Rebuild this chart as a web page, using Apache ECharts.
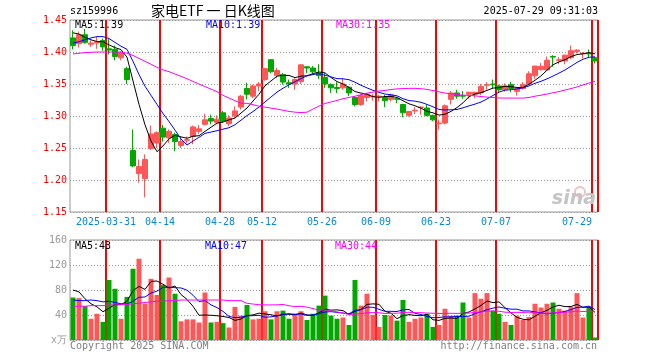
<!DOCTYPE html>
<html><head><meta charset="utf-8">
<script src="https://cdn.jsdelivr.net/npm/echarts@6/dist/echarts.min.js"></script>
<style>html,body{margin:0;padding:0;background:#fff}#c{width:660px;height:360px}</style>
</head><body><div id="c"></div>
<script>
// ---- data ----
const dates = ['2025-03-21','2025-03-24','2025-03-25','2025-03-26','2025-03-27','2025-03-28','2025-03-31',
'2025-04-01','2025-04-02','2025-04-03','2025-04-07','2025-04-08','2025-04-09','2025-04-10','2025-04-11',
'2025-04-14','2025-04-15','2025-04-16','2025-04-17','2025-04-18','2025-04-21','2025-04-22','2025-04-23',
'2025-04-24','2025-04-25','2025-04-28','2025-04-29','2025-04-30','2025-05-06','2025-05-07','2025-05-08',
'2025-05-09','2025-05-12','2025-05-13','2025-05-14','2025-05-15','2025-05-16','2025-05-19','2025-05-20',
'2025-05-21','2025-05-22','2025-05-23','2025-05-26','2025-05-27','2025-05-28','2025-05-29','2025-05-30',
'2025-06-03','2025-06-04','2025-06-05','2025-06-06','2025-06-09','2025-06-10','2025-06-11','2025-06-12',
'2025-06-13','2025-06-16','2025-06-17','2025-06-18','2025-06-19','2025-06-20','2025-06-23','2025-06-24',
'2025-06-25','2025-06-26','2025-06-27','2025-06-30','2025-07-01','2025-07-02','2025-07-03','2025-07-04',
'2025-07-07','2025-07-08','2025-07-09','2025-07-10','2025-07-11','2025-07-14','2025-07-15','2025-07-16',
'2025-07-17','2025-07-18','2025-07-21','2025-07-22','2025-07-23','2025-07-24','2025-07-25','2025-07-28',
'2025-07-29'];
const tickDates = ['2025-03-31','2025-04-14','2025-04-28','2025-05-12','2025-05-26','2025-06-09','2025-06-23','2025-07-07','2025-07-29'];

const openP = [1.422,1.413,1.427,1.412,1.414,1.418,1.405,1.404,1.391,1.374,
1.246,1.210,1.202,1.249,1.258,1.281,1.266,1.271,1.254,1.262,
1.268,1.276,1.287,1.296,1.290,1.305,1.288,1.300,1.314,1.343,
1.331,1.347,1.357,1.388,1.3635,1.365,1.352,1.350,1.354,1.377,
1.375,1.367,1.360,1.349,1.3445,1.344,1.345,1.329,1.318,1.329,
1.330,1.330,1.329,1.326,1.327,1.318,1.301,1.308,1.313,1.3125,
1.301,1.288,1.289,1.326,1.336,1.332,1.334,1.334,1.336,1.348,
1.350,1.347,1.341,1.349,1.3385,1.343,1.350,1.363,1.3724,1.372,
1.393,1.387,1.386,1.391,1.401,1.397,1.398,1.391];
const closeP = [1.410,1.427,1.415,1.414,1.416,1.408,1.403,1.393,1.399,1.357,
1.222,1.221,1.232,1.272,1.274,1.267,1.276,1.260,1.260,1.263,
1.283,1.280,1.294,1.292,1.295,1.292,1.297,1.308,1.331,1.334,
1.347,1.350,1.374,1.369,1.371,1.353,1.350,1.357,1.380,1.375,
1.369,1.363,1.350,1.344,1.343,1.350,1.336,1.318,1.332,1.334,
1.331,1.331,1.324,1.333,1.326,1.305,1.307,1.309,1.314,1.301,
1.294,1.289,1.316,1.336,1.331,1.331,1.337,1.337,1.346,1.349,
1.349,1.341,1.347,1.343,1.343,1.349,1.366,1.378,1.3776,1.387,
1.392,1.388,1.395,1.402,1.403,1.398,1.397,1.386];
const lowP = [1.404,1.407,1.413,1.408,1.405,1.402,1.396,1.387,1.387,1.350,
1.220,1.196,1.173,1.247,1.250,1.260,1.258,1.245,1.250,1.257,
1.256,1.272,1.285,1.287,1.287,1.289,1.284,1.297,1.310,1.326,
1.328,1.339,1.355,1.367,1.359,1.349,1.344,1.341,1.350,1.367,
1.366,1.358,1.344,1.336,1.336,1.341,1.331,1.315,1.316,1.323,
1.324,1.323,1.314,1.323,1.320,1.298,1.299,1.303,1.302,1.2995,
1.292,1.279,1.287,1.318,1.327,1.327,1.327,1.328,1.333,1.341,
1.343,1.336,1.338,1.337,1.332,1.341,1.348,1.358,1.371,1.371,
1.377,1.381,1.381,1.389,1.398,1.390,1.392,1.382];
const highP = [1.434,1.432,1.436,1.418,1.424,1.421,1.420,1.410,1.401,1.377,
1.279,1.232,1.240,1.285,1.276,1.286,1.279,1.274,1.268,1.268,
1.285,1.286,1.303,1.302,1.301,1.308,1.301,1.315,1.333,1.352,
1.349,1.353,1.375,1.389,1.375,1.367,1.357,1.359,1.380,1.377,
1.378,1.381,1.367,1.351,1.353,1.359,1.346,1.331,1.333,1.336,
1.334,1.333,1.333,1.335,1.329,1.319,1.308,1.314,1.315,1.318,
1.302,1.294,1.318,1.339,1.341,1.339,1.338,1.338,1.350,1.353,
1.357,1.349,1.351,1.353,1.345,1.353,1.370,1.378,1.383,1.393,
1.395,1.392,1.396,1.410,1.404,1.400,1.404,1.392];
const volume = [68,67,54,34,42,29,96,82,34,69,
114,130,58,98,72,88,100,74,30,33,
33,28,76,28,29,27,20,53,39,56,
33,34,46,33,46,47,34,42,46,32,
42,55,71,39,34,36,24,96,55,74,
40,21,40,39,31,64,29,34,36,42,
21,24,50,39,39,60,36,75,66,75,
47,42,29,24,39,32,37,58,52,58,
60,50,47,53,75,36,53,4];

// moving-average values before the visible window
const ma5Pre = [1.430,1.428,1.423,1.419];
const ma10Pre = [1.414,1.416,1.419,1.422,1.424,1.424,1.421,1.415,1.409];
const ma30Pre = [1.397,1.398,1.399,1.3995,1.400,1.400,1.400,1.400,1.400,1.398,
1.3947,1.390,1.3854,1.381,1.376,1.372,1.3693,1.3656,1.362,1.3583,
1.354,1.350,1.346,1.342,1.338,1.3323,1.3281,1.324,1.3198];
const vma5Pre = [80,77,66,58];
const vma10Pre = [64,63,63,64,63,61,62,60,58];
const vma30Pre = [54,54,54,55,55,55,56,56,57,57,58,59,60,61,62,62,63,63,64,64,64,64,64,64,64,64,63,63,63];

const priceLegend = ['MA5:1.39','MA10:1.39','MA30:1.35'];
const volLegend = ['MA5:43','MA10:47','MA30:44'];
const headLeft = 'sz159996';
const headTitle = '家电ETF 一 日K线图';
const headTime = '2025-07-29 09:31:03';

// ---- build ----
function ma(arr, n, pre) {
  return arr.map((_, i) => {
    if (i < n - 1) return pre[i];
    let s = 0; for (let k = i - n + 1; k <= i; k++) s += arr[k];
    return s / n;
  });
}
const RED = '#ff5757', GREEN = '#00a800';
const MONO = "'DejaVu Sans Mono', monospace";
const GRIDV = '#999999';
const tickList = tickDates.map(d => dates.indexOf(d));
const tickIdx = new Set(tickList);
const lastIdx = dates.length - 1;
const firstTick = tickList[0];
const kData = dates.map((_, i) => [openP[i], closeP[i], lowP[i], highP[i]]);
const isUp = i => closeP[i] >= openP[i];
const showTick = (i) => tickIdx.has(i);

function catAxis(gridIndex, withLabels) {
  return {
    type: 'category', data: dates, boundaryGap: true, gridIndex,
    axisLine: { show: false },
    axisTick: { show: false, interval: showTick },
    splitLine: { show: true, interval: showTick, lineStyle: { color: '#ff0000', type: 'solid', width: 2 } },
    axisLabel: withLabels ? {
      show: true, interval: showTick, margin: 5, color: '#0a88d8',
      fontFamily: MONO, fontSize: 10,
      formatter: (v, i) => {
        const t = i === firstTick ? v : v.slice(5);
        return (i === lastIdx ? '{b|' : '{a|') + t + '}';
      },
      rich: {
        a: { padding: [0, 6, 0, 0], color: '#0a88d8', fontFamily: MONO, fontSize: 10 },
        b: { padding: [0, 36, 0, 0], color: '#0a88d8', fontFamily: MONO, fontSize: 10 }
      }
    } : { show: false, interval: showTick }
  };
}
const lineS = (name, data, color, xi, yi) => ({
  type: 'line', name, data, xAxisIndex: xi, yAxisIndex: yi, showSymbol: false, symbol: 'none',
  lineStyle: { color, width: 1 }, itemStyle: { color }, silent: true, z: 5
});
const txt = (text, x, y, fill, align, font) => ({
  type: 'text', x, y, silent: true, z: 100,
  style: { text, fill, align: align || 'left', verticalAlign: 'middle', font: font || ('10px ' + MONO) }
});

const chart = echarts.init(document.getElementById('c'), null, { renderer: 'canvas' });
chart.setOption({
  animation: false,
  grid: [
    { left: 70, right: 62, top: 20, height: 192, show: true, borderColor: '#999', borderWidth: 1 },
    { left: 70, right: 62, top: 240, height: 100, show: true, borderColor: '#999', borderWidth: 1 }
  ],
  xAxis: [catAxis(0, true), catAxis(1, false)],
  yAxis: [
    {
      gridIndex: 0, type: 'value', min: 1.15, max: 1.45, interval: 0.05,
      axisLine: { show: false }, axisTick: { show: false },
      axisLabel: { color: '#ff0000', fontFamily: MONO, fontSize: 10, margin: 3, formatter: v => v.toFixed(2) },
      splitLine: { show: true, lineStyle: { color: '#999', type: [1, 2], width: 1 } }
    },
    {
      gridIndex: 1, type: 'value', min: 0, max: 160, interval: 40,
      axisLine: { show: false }, axisTick: { show: false },
      axisLabel: { color: '#999', fontFamily: MONO, fontSize: 10, margin: 3, formatter: v => v === 0 ? 'x万' : String(v) },
      splitLine: { show: true, lineStyle: { color: '#999', type: [1, 2], width: 1 } }
    }
  ],
  series: [
    {
      type: 'candlestick', data: kData, xAxisIndex: 0, yAxisIndex: 0, barWidth: 5,
      itemStyle: { color: RED, color0: GREEN, borderColor: RED, borderColor0: GREEN, borderWidth: 1 }, z: 3
    },
    lineS('MA5', ma(closeP, 5, ma5Pre), '#000000', 0, 0),
    lineS('MA10', ma(closeP, 10, ma10Pre), '#0000ff', 0, 0),
    lineS('MA30', ma(closeP, 30, ma30Pre), '#ff00ff', 0, 0),
    {
      type: 'bar', data: volume, xAxisIndex: 1, yAxisIndex: 1, barWidth: 5, z: 3,
      itemStyle: { color: p => isUp(p.dataIndex) ? RED : GREEN }
    },
    lineS('VMA5', ma(volume, 5, vma5Pre), '#000000', 1, 1),
    lineS('VMA10', ma(volume, 10, vma10Pre), '#0000ff', 1, 1),
    lineS('VMA30', ma(volume, 30, vma30Pre), '#ff00ff', 1, 1)
  ],
  graphic: [
    txt(headLeft, 70, 11, '#000'),
    txt(headTitle, 151, 11, '#000', 'left', "14px 'Noto Sans CJK SC', sans-serif"),
    txt(headTime, 598, 11, '#000', 'right'),
    txt(priceLegend[0], 75, 25.5, '#000'),
    txt(priceLegend[1], 206, 25.5, '#0000ff'),
    txt(priceLegend[2], 336, 25.5, '#ff00ff'),
    txt(volLegend[0], 75, 246, '#000'),
    txt(volLegend[1], 205, 246, '#0000ff'),
    txt(volLegend[2], 335, 246, '#ff00ff'),
    txt('Copyright 2025 SINA.COM', 70, 346, '#808080'),
    txt('http://finance.sina.com.cn', 597, 346, '#808080', 'right'),
    { type: 'circle', shape: { cx: 580, cy: 192, r: 5 }, silent: true, style: { fill: 'none', stroke: '#f4c0c0', lineWidth: 2 } },
    txt('sina', 596, 199, '#c4c4c4', 'right', "italic bold 19px 'DejaVu Sans', sans-serif")
  ]
});
</script></body></html>
